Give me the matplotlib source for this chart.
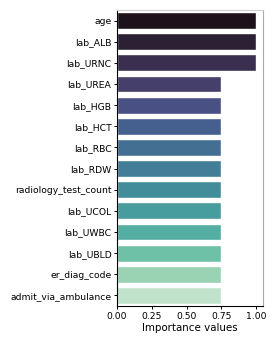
import numpy as np
import matplotlib
matplotlib.use("Agg")
import matplotlib.pyplot as plt
import seaborn as sns

features = ["age", "lab_ALB", "lab_URNC", "lab_UREA", "lab_HGB", "lab_HCT",
            "lab_RBC", "lab_RDW", "radiology_test_count", "lab_UCOL",
            "lab_UWBC", "lab_UBLD", "er_diag_code", "admit_via_ambulance"]
importance = [1.0, 1.0, 1.0, 0.75, 0.75, 0.75, 0.75, 0.75, 0.75, 0.75,
              0.75, 0.75, 0.75, 0.75]

fig = plt.figure(figsize=(2.74, 3.43), dpi=100)
ax = fig.add_axes([117/274, 1-306/343, 146/274, 296/343])

# seaborn barplot style colours (mako, saturation 0.75)
colors = [sns.desaturate(c, 0.75) for c in sns.color_palette("mako", len(features))]
y = np.arange(len(features))
ax.barh(y, importance, height=0.8, color=colors, edgecolor="white", linewidth=1)
ax.set_yticks(y)
ax.set_yticklabels(features)
ax.set_ylim(len(features) - 0.5, -0.5)
ax.set_xlim(0, 1.05)
ax.set_xticks([0, 0.25, 0.5, 0.75, 1.0])
ax.set_xticklabels(["0.00", "0.25", "0.50", "0.75", "1.00"])
ax.set_xlabel("Importance values", fontsize=7.4, labelpad=1.5)
ax.tick_params(length=2.5, width=0.7, pad=1.5, labelsize=6.7)
ax.spines["top"].set_color("#cccccc")
ax.spines["right"].set_color("#aaaaaa")

fig.savefig("out.png", dpi=100)
